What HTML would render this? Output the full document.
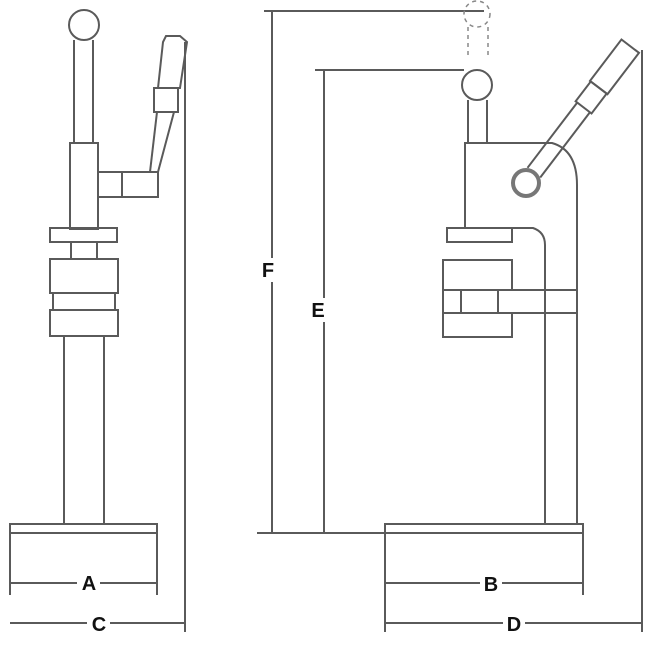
<!DOCTYPE html>
<html><head><style>html,body{margin:0;padding:0;background:#fff}svg{display:block}</style></head>
<body>
<svg width="650" height="650" viewBox="0 0 650 650" xmlns="http://www.w3.org/2000/svg">
<g fill="none" stroke="#5a5a5a" stroke-width="2">
<circle cx="84" cy="25" r="15"/>
<line x1="74" y1="40" x2="74" y2="143"/><line x1="93" y1="40" x2="93" y2="143"/>
<rect x="70" y="143" width="28" height="86"/>
<rect x="98" y="172" width="60" height="25"/>
<line x1="122" y1="172" x2="122" y2="197"/>
<line x1="150" y1="172" x2="157" y2="112"/><line x1="158" y1="172" x2="174" y2="112"/>
<polygon points="154,88 178,88 178,112 154,112"/>
<polygon points="158,88 180,88 187,42 180,36 166,36 163,42"/>
<line x1="185" y1="42" x2="185" y2="632"/>
<rect x="50" y="228" width="67" height="14"/>
<line x1="71" y1="242" x2="71" y2="259"/><line x1="97" y1="242" x2="97" y2="259"/>
<rect x="50" y="259" width="68" height="34"/>
<rect x="53" y="293" width="62" height="17"/>
<rect x="50" y="310" width="68" height="26"/>
<line x1="64" y1="336" x2="64" y2="524"/><line x1="104" y1="336" x2="104" y2="524"/>
<rect x="10" y="524" width="147" height="9"/>
<line x1="10" y1="533" x2="10" y2="595"/><line x1="157" y1="533" x2="157" y2="595"/>
<line x1="10" y1="583" x2="77" y2="583"/><line x1="100" y1="583" x2="157" y2="583"/>
<line x1="10" y1="623" x2="87" y2="623"/><line x1="110" y1="623" x2="185" y2="623"/>
<line x1="264" y1="11" x2="484" y2="11"/>
<line x1="315" y1="70" x2="464" y2="70"/>
<line x1="272" y1="11" x2="272" y2="258"/><line x1="272" y1="282" x2="272" y2="533"/>
<line x1="324" y1="70" x2="324" y2="298"/><line x1="324" y1="322" x2="324" y2="533"/>
<line x1="257" y1="533" x2="385" y2="533"/>
<g stroke-dasharray="4,4" stroke-width="1.5" stroke="#888"><circle cx="477" cy="14" r="13"/><path d="M468 27 L468 58 M488 27 L488 58"/></g>
<circle cx="477" cy="85" r="15"/>
<line x1="468" y1="100" x2="468" y2="143"/><line x1="487" y1="100" x2="487" y2="143"/>
<path d="M465 228 L465 143 L552 143 Q577 150 577 185 L577 524"/>
<path d="M512 228 L533 228 Q545 232 545 245 L545 524"/>
<rect x="447" y="228" width="65" height="14"/>
<rect x="443" y="260" width="69" height="30"/>
<rect x="443" y="290" width="134" height="23"/>
<line x1="461" y1="290" x2="461" y2="313"/><line x1="498" y1="290" x2="498" y2="313"/>
<rect x="443" y="313" width="69" height="24"/>
<g transform="translate(526,183) rotate(-52.7)">
<line x1="13" y1="-8" x2="95" y2="-8"/><line x1="13" y1="8" x2="95" y2="8"/>
<rect x="95" y="-10" width="25" height="20"/>
<rect x="120" y="-11" width="52" height="22"/>
</g>
<circle cx="526" cy="183" r="13" stroke-width="4" stroke="#777"/>
<line x1="642" y1="50" x2="642" y2="632"/>
<rect x="385" y="524" width="198" height="9"/>
<line x1="385" y1="533" x2="385" y2="632"/><line x1="583" y1="533" x2="583" y2="595"/>
<line x1="385" y1="583" x2="480" y2="583"/><line x1="502" y1="583" x2="583" y2="583"/>
<line x1="385" y1="623" x2="503" y2="623"/><line x1="525" y1="623" x2="642" y2="623"/>
</g>
<g font-family="Liberation Sans, sans-serif" font-weight="bold" font-size="20" fill="#111" text-anchor="middle">
<text x="89" y="590">A</text><text x="99" y="631">C</text>
<text x="268" y="277">F</text><text x="318" y="317">E</text>
<text x="491" y="591">B</text><text x="514" y="631">D</text>
</g>
</svg>
</body></html>
